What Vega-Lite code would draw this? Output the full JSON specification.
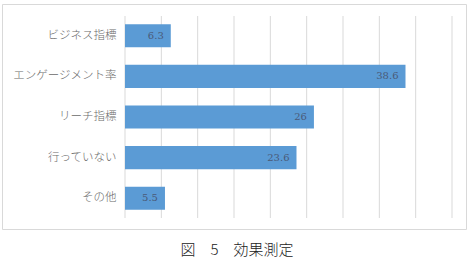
{
  "$schema": "https://vega.github.io/schema/vega-lite/v6.json",
  "width": 464,
  "height": 225,
  "autosize": {"type": "none"},
  "padding": {"left": 2, "top": 4, "right": 5, "bottom": 31},
  "background": "white",
  "config": {
    "view": {"stroke": "#d9d9d9", "strokeWidth": 1},
    "font": "Noto Sans CJK JP"
  },
  "title": {
    "text": "図　5　効果測定",
    "orient": "bottom",
    "anchor": "middle",
    "align": "center",
    "offset": 14,
    "dx": 3,
    "fontSize": 15,
    "fontWeight": 300,
    "font": "Noto Sans CJK JP",
    "color": "#222222"
  },
  "datasets": {
    "bars": [
      {"item": "ビジネス指標", "value": 6.3},
      {"item": "エンゲージメント率", "value": 38.6},
      {"item": "リーチ指標", "value": 26},
      {"item": "行っていない", "value": 23.6},
      {"item": "その他", "value": 5.5}
    ],
    "grid": [
      {"g": 0, "lo": 0, "hi": 1},
      {"g": 5, "lo": 0, "hi": 1},
      {"g": 10, "lo": 0, "hi": 1},
      {"g": 15, "lo": 0, "hi": 1},
      {"g": 20, "lo": 0, "hi": 1},
      {"g": 25, "lo": 0, "hi": 1},
      {"g": 30, "lo": 0, "hi": 1},
      {"g": 35, "lo": 0, "hi": 1},
      {"g": 40, "lo": 0, "hi": 1},
      {"g": 45, "lo": 0, "hi": 1}
    ]
  },
  "layer": [
    {
      "data": {"name": "grid"},
      "mark": {"type": "rule", "color": "#d9d9d9", "strokeWidth": 1},
      "encoding": {
        "x": {"field": "g", "type": "quantitative", "scale": {"domain": [0, 45], "range": [123, 450]}, "axis": null},
        "y": {"field": "lo", "type": "quantitative", "scale": {"domain": [0, 1], "range": [12, 214]}, "axis": null},
        "y2": {"field": "hi"}
      }
    },
    {
      "data": {"name": "bars"},
      "encoding": {
        "x": {"field": "value", "type": "quantitative", "scale": {"domain": [0, 45], "range": [123, 450]}, "axis": null},
        "y": {
          "field": "item", "type": "nominal", "sort": null,
          "scale": {"range": [12, 214], "paddingInner": 0.43, "paddingOuter": 0.2},
          "axis": {
            "title": null, "domain": false, "ticks": false, "offset": -123,
            "labelPadding": 9, "labelFontSize": 11.5, "labelColor": "#6b6b6b",
            "labelFont": "Noto Sans CJK JP", "labelFontWeight": 300
          }
        }
      },
      "layer": [
        {"mark": {"type": "bar", "color": "#5b9bd5"}},
        {
          "mark": {"type": "text", "align": "right", "baseline": "middle", "dx": -7, "fontSize": 10, "font": "DejaVu Serif", "color": "#4a5a78"},
          "encoding": {"text": {"field": "value", "type": "quantitative"}}
        }
      ]
    }
  ],
  "resolve": {"scale": {"y": "independent"}}
}
